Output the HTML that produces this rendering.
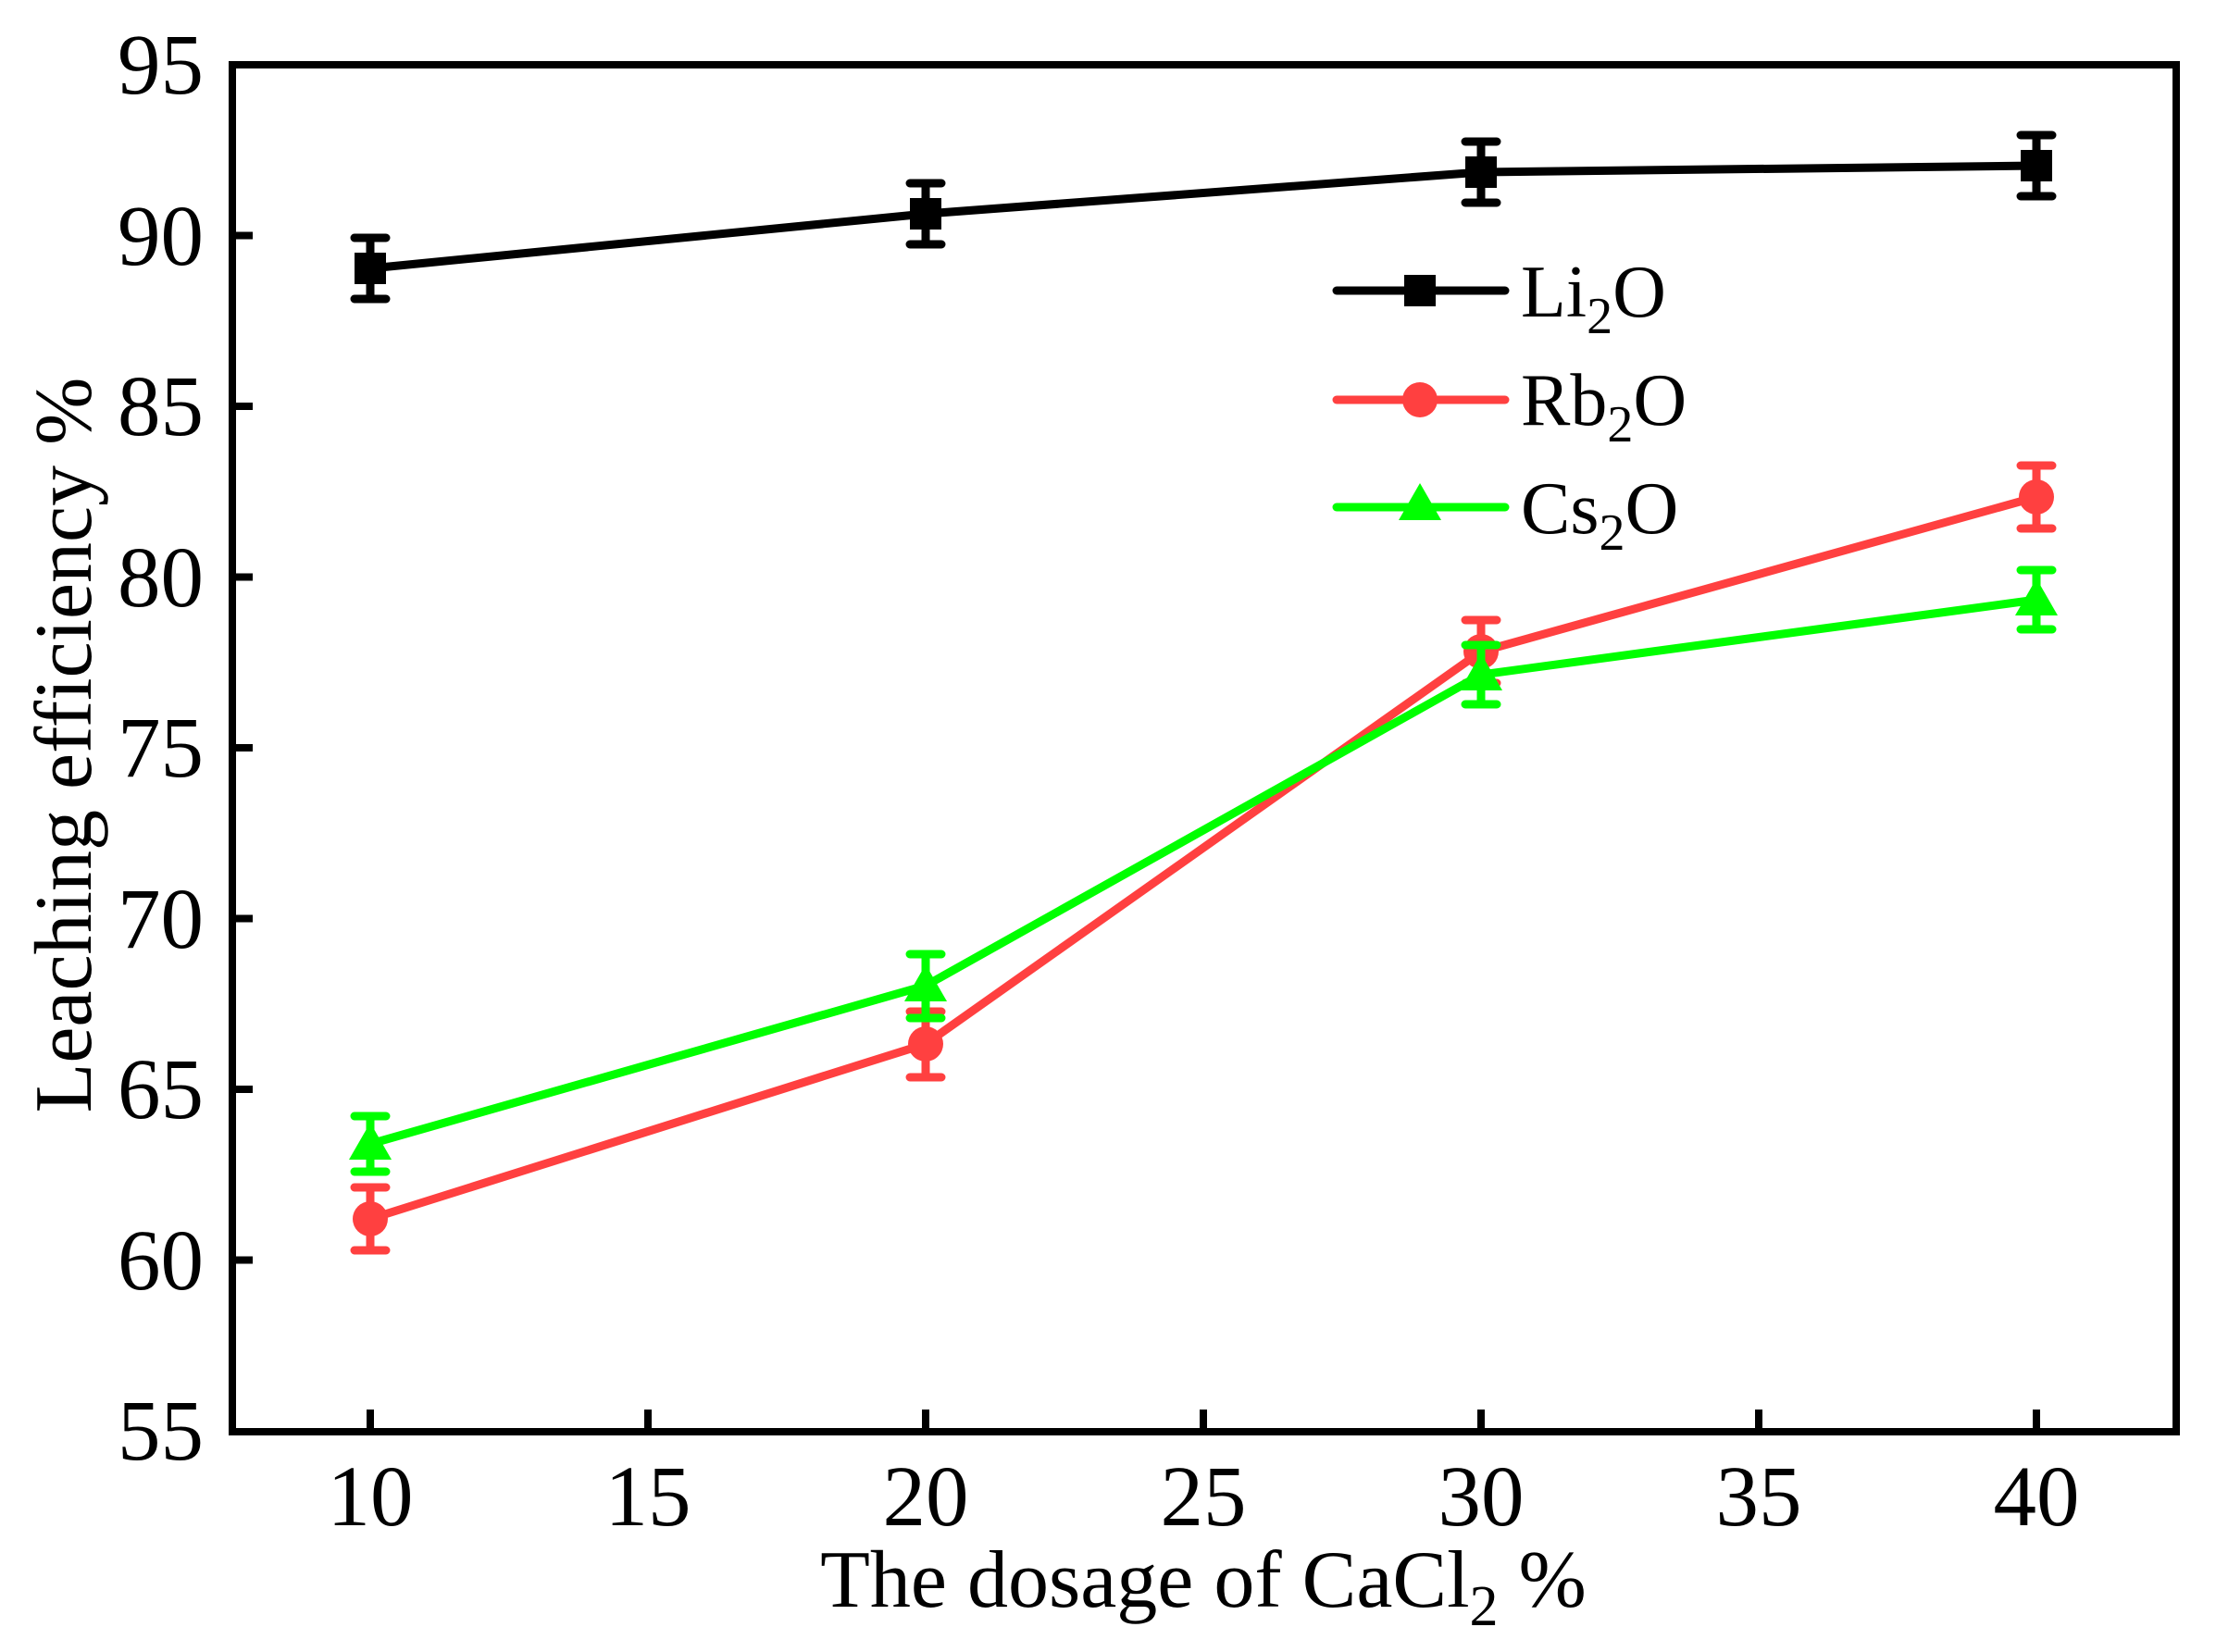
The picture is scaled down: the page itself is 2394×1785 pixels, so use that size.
<!DOCTYPE html>
<html><head><meta charset="utf-8"><style>html,body{margin:0;padding:0;background:#fff}svg{display:block}</style></head>
<body>
<svg width="2394" height="1785" viewBox="0 0 2394 1785" xmlns="http://www.w3.org/2000/svg" font-family="'Liberation Serif', serif">
<rect width="2394" height="1785" fill="#fff"/>
<g stroke="#000" stroke-width="8" fill="none">
<rect x="251" y="70" width="2100" height="1477"/>
<path d="M251 254.5h22M251 439h22M251 623.5h22M251 808h22M251 992.5h22M251 1177h22M251 1361.5h22"/>
<path d="M400 1547v-24M700 1547v-24M1000 1547v-24M1300 1547v-24M1600 1547v-24M1900 1547v-24M2200 1547v-24"/>
</g>
<g font-size="93" text-anchor="end" fill="#000">
<text x="220" y="101">95</text><text x="220" y="286">90</text><text x="220" y="470">85</text>
<text x="220" y="655">80</text><text x="220" y="839">75</text><text x="220" y="1024">70</text>
<text x="220" y="1208">65</text><text x="220" y="1393">60</text><text x="220" y="1577">55</text>
</g>
<g font-size="93" text-anchor="middle" fill="#000">
<text x="400" y="1648">10</text><text x="700" y="1648">15</text><text x="1000" y="1648">20</text>
<text x="1300" y="1648">25</text><text x="1600" y="1648">30</text><text x="1900" y="1648">35</text>
<text x="2200" y="1648">40</text>
<text x="1300" y="1736" font-size="88">The dosage of CaCl<tspan font-size="62" dy="20">2</tspan><tspan dy="-20"> %</tspan></text>
<text transform="translate(98,805) rotate(-90)" font-size="88">Leaching efficiency %</text>
</g>
<g stroke="#000" stroke-width="9" fill="none" stroke-linecap="round">
<polyline points="400,290 1000,231 1600,186 2200,179"/>
<path d="M400 257v66M383 257h34M383 323h34 M1000 198v66M983 198h34M983 264h34 M1600 153v66M1583 153h34M1583 219h34 M2200 146v66M2183 146h34M2183 212h34"/>
</g>
<g fill="#000">
<rect x="383" y="273" width="34" height="34"/><rect x="983" y="214" width="34" height="34"/>
<rect x="1583" y="169" width="34" height="34"/><rect x="2183" y="162" width="34" height="34"/>
</g>
<g stroke="#ff4040" stroke-width="9" fill="none" stroke-linecap="round">
<polyline points="400,1317 1000,1128 1600,704 2200,537"/>
<path d="M400 1283v68M383 1283h34M383 1351h34 M1000 1093v71M983 1093h34M983 1164h34 M1600 670v68M1583 670h34M1583 738h34 M2200 503v68M2183 503h34M2183 571h34"/>
</g>
<g fill="#ff4040">
<circle cx="400" cy="1317" r="19"/><circle cx="1000" cy="1128" r="19"/><circle cx="1600" cy="704" r="19"/><circle cx="2200" cy="537" r="19"/>
</g>
<g stroke="#00ff00" stroke-width="9" fill="none" stroke-linecap="round">
<polyline points="400,1236 1000,1065 1600,729 2200,648"/>
<path d="M400 1206v60M383 1206h34M383 1266h34 M1000 1031v69M983 1031h34M983 1100h34 M1600 697v64M1583 697h34M1583 761h34 M2200 616v64M2183 616h34M2183 680h34"/>
</g>
<g fill="#00ff00">
<polygon points="400,1213 423,1253 377,1253"/><polygon points="1000,1042 1023,1082 977,1082"/>
<polygon points="1600,706 1623,746 1577,746"/><polygon points="2200,625 2223,665 2177,665"/>
</g>
<g stroke-width="9" stroke-linecap="round">
<line x1="1444" y1="314" x2="1626" y2="314" stroke="#000"/>
<line x1="1444" y1="432" x2="1626" y2="432" stroke="#ff4040"/>
<line x1="1444" y1="548" x2="1626" y2="548" stroke="#00ff00"/>
</g>
<rect x="1517" y="297" width="34" height="34" fill="#000"/>
<circle cx="1534" cy="432" r="19" fill="#ff4040"/>
<polygon points="1534,522 1557,562 1511,562" fill="#00ff00"/>
<g font-size="80" fill="#000">
<text x="1643" y="342">Li<tspan font-size="56" dy="18">2</tspan><tspan dy="-18">O</tspan></text>
<text x="1643" y="459">Rb<tspan font-size="56" dy="18">2</tspan><tspan dy="-18">O</tspan></text>
<text x="1643" y="576">Cs<tspan font-size="56" dy="18">2</tspan><tspan dy="-18">O</tspan></text>
</g>
</svg>
</body></html>
